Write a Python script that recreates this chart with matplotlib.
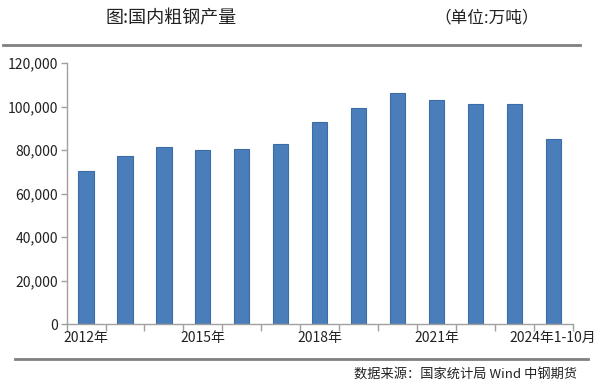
import matplotlib
matplotlib.use('Agg')
import matplotlib.pyplot as plt
from matplotlib.ticker import FuncFormatter, FixedLocator
from matplotlib.lines import Line2D
import numpy as np

plt.rcParams['font.family'] = ['Noto Sans CJK SC', 'DejaVu Sans']

# crude steel output, 10k tonnes
years = ['2012年', '2013年', '2014年', '2015年', '2016年', '2017年', '2018年',
         '2019年', '2020年', '2021年', '2022年', '2023年', '2024年1-10月']
output = [70600, 77200, 81400, 80100, 80500, 82900, 93000,
          99100, 106300, 103100, 101100, 101100, 85100]
shown_labels = [0, 3, 6, 9, 12]

title = '图:国内粗钢产量'
unit = '（单位:万吨）'
source = '数据来源：国家统计局 Wind 中钢期货'

fig = plt.figure(figsize=(6, 3.85), dpi=100)
ax = fig.add_axes([0.111, 0.1577, 0.8434, 0.6787])

x = np.arange(len(years))
ax.bar(x, output, width=0.39, color='#4A7EBB', edgecolor='#3C6CA6', linewidth=0.8)

ax.set_xlim(-0.5, len(years) - 0.5)
ax.set_ylim(0, 120000)
ax.set_yticks(np.arange(0, 120001, 20000))
ax.yaxis.set_major_formatter(FuncFormatter(lambda v, p: '{:,.0f}'.format(v)))

# tick marks at category boundaries, labels at centres
ax.xaxis.set_major_locator(FixedLocator(np.arange(len(years) + 1) - 0.5))
ax.xaxis.set_minor_locator(FixedLocator(x[shown_labels]))
ax.set_xticklabels([], minor=False)
ax.set_xticklabels([years[i] for i in shown_labels], minor=True)
ax.tick_params(axis='x', which='major', length=5, color='#a0a0a0', width=1)
ax.tick_params(axis='x', which='minor', length=0, pad=5, labelsize=10, labelcolor='#222222')
ax.tick_params(axis='y', length=4, color='#a0a0a0', width=1, labelsize=10,
               labelcolor='#222222', pad=2)

for s in ['top', 'right']:
    ax.spines[s].set_visible(False)
for s in ['left', 'bottom']:
    ax.spines[s].set_color('#a0a0a0')
    ax.spines[s].set_linewidth(1)

fig.text(171 / 600, 1 - 18 / 385, title, ha='center', va='center', fontsize=13, color='#222222')
fig.text(487 / 600, 1 - 18 / 385, unit, ha='center', va='center', fontsize=12, color='#222222')
fig.text(577 / 600, 1 - 375 / 385, source, ha='right', va='center', fontsize=9.5, color='#222222')

fig.add_artist(Line2D([3 / 600, 580 / 600], [1 - 45 / 385] * 2, color='#808080', linewidth=2,
                      transform=fig.transFigure))
fig.add_artist(Line2D([15 / 600, 588 / 600], [1 - 359 / 385] * 2, color='#808080', linewidth=2,
                      transform=fig.transFigure))

fig.savefig('out.png', dpi=100)
